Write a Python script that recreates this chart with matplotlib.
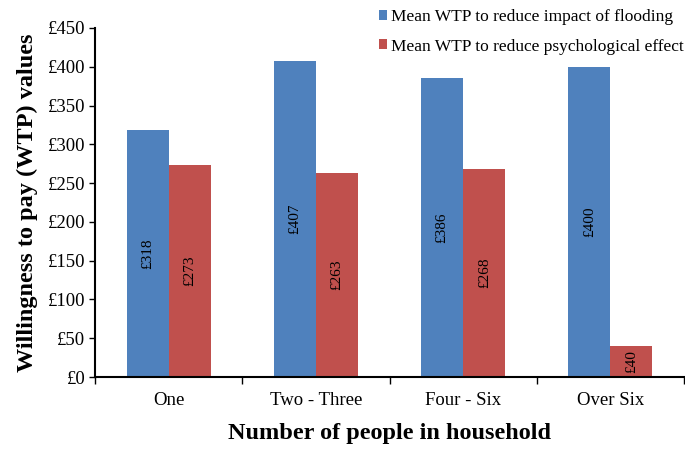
import matplotlib
matplotlib.use("Agg")
import matplotlib.pyplot as plt
import numpy as np
from matplotlib.ticker import FuncFormatter, MultipleLocator

plt.rcParams['font.family'] = ['Liberation Serif', 'DejaVu Serif']

categories = ["One", "Two - Three", "Four - Six", "Over Six"]
flooding = [318, 407, 386, 400]
psychological = [273, 263, 268, 40]
series_names = ["Mean WTP to reduce impact of flooding",
                "Mean WTP to reduce psychological effect"]
blue = "#4F81BD"
red = "#C0504D"

fig = plt.figure(figsize=(6.85, 4.49), dpi=100)
ax = fig.add_axes([95/685, 1-377/449, 589/685, 349/449])

x = np.arange(len(categories))
w = 0.286
b1 = ax.bar(x - w/2, flooding, w, color=blue, label=series_names[0])
b2 = ax.bar(x + w/2, psychological, w, color=red, label=series_names[1])

for bars, vals in ((b1, flooding), (b2, psychological)):
    for rect, v in zip(bars, vals):
        ax.text(rect.get_x() + rect.get_width()/2, v/2, f"£{v}",
                rotation=90, ha='center', va='center', fontsize=11)

ax.set_xlim(-0.5, len(categories) - 0.5)
ax.set_ylim(0, 450)
ax.yaxis.set_major_locator(MultipleLocator(50))
ax.yaxis.set_major_formatter(FuncFormatter(lambda v, p: f"£{int(v)}"))
ax.set_xticks(x)
ax.set_xticklabels(categories)
ax.set_xticks(np.arange(-0.5, len(categories)), minor=True)
ax.tick_params(axis='x', which='major', length=0, labelsize=13.5, pad=11)
ax.tick_params(axis='x', which='minor', length=5, width=1, direction='out')
ax.tick_params(axis='y', length=4, width=1, direction='out', labelsize=13.5, pad=3)

for s in ('top', 'right'):
    ax.spines[s].set_visible(False)
ax.spines['left'].set_linewidth(1.5)
ax.spines['bottom'].set_linewidth(1.5)

ax.set_ylabel("Willingness to pay (WTP) values", fontsize=17.5, fontweight='bold', labelpad=7)
ax.set_xlabel("Number of people in household", fontsize=17.5, fontweight='bold', labelpad=10)

fig.legend(loc='upper right', bbox_to_anchor=(1 - 1/685, 1 - 9/449), frameon=False,
           fontsize=12.5, handlelength=0.5, handleheight=0.5, handletextpad=0.22,
           labelspacing=0.78, borderaxespad=0, borderpad=0)

fig.savefig("out.png", dpi=100)
